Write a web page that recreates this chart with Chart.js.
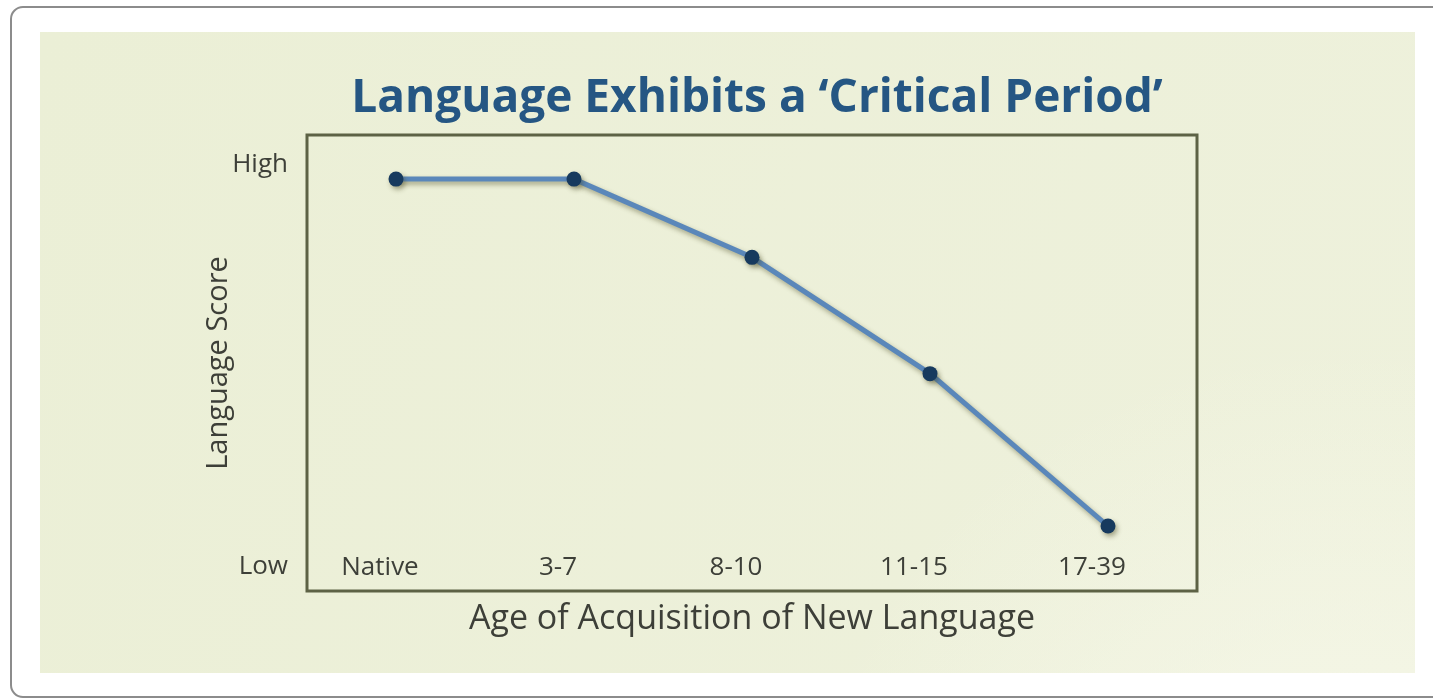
<!DOCTYPE html>
<html lang="en">
<head>
    <meta charset="UTF-8">
    <title>Language Exhibits a ‘Critical Period’</title>
    <script src="https://cdn.jsdelivr.net/npm/chart.js"></script>
    <style>
        html, body { margin: 0; padding: 0; background: #ffffff; }
        #wrap { width: 1433px; height: 699px; }
    </style>
</head>
<body>
    <div id="wrap"><canvas id="criticalChart" width="1433" height="699"></canvas></div>

    <script>
        // data (0 = Low, 100 = High)
        const ageGroups = ['Native', '3-7', '8-10', '11-15', '17-39'];
        const languageScore = [96.5, 96.5, 77, 48, 10];
        const scoreTicks = [0, 100];
        const scoreTickLabels = ['Low', 'High'];
        const chartTitle = 'Language Exhibits a ‘Critical Period’';

        const textGray = '#3d3f38';
        const fontFamily = '"Open Sans", Lato, sans-serif';

        // slide background: white card + pale green panel + box around the plot
        const slideBackground = {
            id: 'slideBackground',
            beforeDraw(chart) {
                const c = chart.ctx;
                c.save();
                c.fillStyle = '#ffffff';
                c.fillRect(0, 0, chart.width, chart.height);
                c.beginPath();
                c.roundRect(11, 7, 1440, 690, 12);
                c.strokeStyle = '#8c8c8c';
                c.lineWidth = 2;
                c.stroke();

                const g = c.createLinearGradient(40, 32, 1415, 673);
                g.addColorStop(0, '#ebefd6');
                g.addColorStop(1, '#eef1dc');
                c.fillStyle = g;
                c.fillRect(40, 32, 1375, 641);
                const r = c.createRadialGradient(1350, 900, 100, 1350, 900, 560);
                r.addColorStop(0, 'rgba(248,249,236,0.7)');
                r.addColorStop(1, 'rgba(248,249,236,0)');
                c.fillStyle = r;
                c.fillRect(40, 32, 1375, 641);
                c.restore();
            },
            afterDraw(chart) {
                const a = chart.chartArea;
                const c = chart.ctx;
                c.save();
                c.strokeStyle = '#5d6245';
                c.lineWidth = 3;
                c.strokeRect(a.left, a.top, a.right - a.left, a.bottom - a.top);
                // title sits a little right of the plot centre in the slide
                c.font = 'bold 46px ' + fontFamily;
                c.fillStyle = '#255683';
                c.textAlign = 'center';
                c.textBaseline = 'middle';
                c.fillText(chartTitle, 757, 99);
                c.restore();
            }
        };

        // soft drop shadow under the line and markers
        const lineShadow = {
            id: 'lineShadow',
            beforeDatasetDraw(chart) {
                const c = chart.ctx;
                c.save();
                c.shadowColor = 'rgba(70, 70, 30, 0.45)';
                c.shadowBlur = 5;
                c.shadowOffsetX = 2;
                c.shadowOffsetY = 3;
            },
            afterDatasetDraw(chart) {
                chart.ctx.restore();
            }
        };

        const ctx = document.getElementById('criticalChart').getContext('2d');
        new Chart(ctx, {
            type: 'line',
            data: {
                labels: ageGroups,
                datasets: [{
                    label: 'Language Score',
                    data: languageScore,
                    borderColor: '#5a87ba',
                    borderWidth: 5,
                    pointRadius: 7.5,
                    pointBackgroundColor: '#173a5e',
                    pointBorderColor: '#173a5e',
                    pointBorderWidth: 0,
                    tension: 0,
                    fill: false
                }]
            },
            options: {
                responsive: false,
                animation: false,
                layout: { padding: { left: 190, right: 236, top: 135, bottom: 48 } },
                plugins: {
                    legend: { display: false },
                    tooltip: { enabled: false },
                    title: { display: false }
                },
                scales: {
                    x: {
                        type: 'category',
                        offset: true,
                        grid: { display: false, drawTicks: false },
                        border: { display: false },
                        ticks: {
                            color: textGray,
                            font: { family: fontFamily, size: 26 },
                            mirror: true,
                            padding: 8,
                            labelOffset: -16,
                            maxRotation: 0,
                            autoSkip: false
                        },
                        title: {
                            display: true,
                            text: 'Age of Acquisition of New Language',
                            color: textGray,
                            font: { family: fontFamily, size: 34, lineHeight: 1.2 },
                            padding: { top: 0, bottom: 11 }
                        },
                        afterFit(scale) { scale.height = 60; }
                    },
                    y: {
                        min: -6.2,
                        max: 107.5,
                        grid: { display: false, drawTicks: false },
                        border: { display: false },
                        afterBuildTicks(scale) {
                            scale.ticks = scoreTicks.map(v => ({ value: v }));
                        },
                        ticks: {
                            color: textGray,
                            font: { family: fontFamily, size: 26 },
                            padding: 19,
                            callback(value) {
                                const i = scoreTicks.indexOf(value);
                                return i >= 0 ? scoreTickLabels[i] : '';
                            }
                        },
                        title: {
                            display: true,
                            text: 'Language Score',
                            color: textGray,
                            font: { family: fontFamily, size: 29, lineHeight: 1.2 },
                            padding: { top: 11, bottom: 0 }
                        },
                        afterFit(scale) { scale.width = 117; }
                    }
                }
            },
            plugins: [slideBackground, lineShadow]
        });
    </script>
</body>
</html>
